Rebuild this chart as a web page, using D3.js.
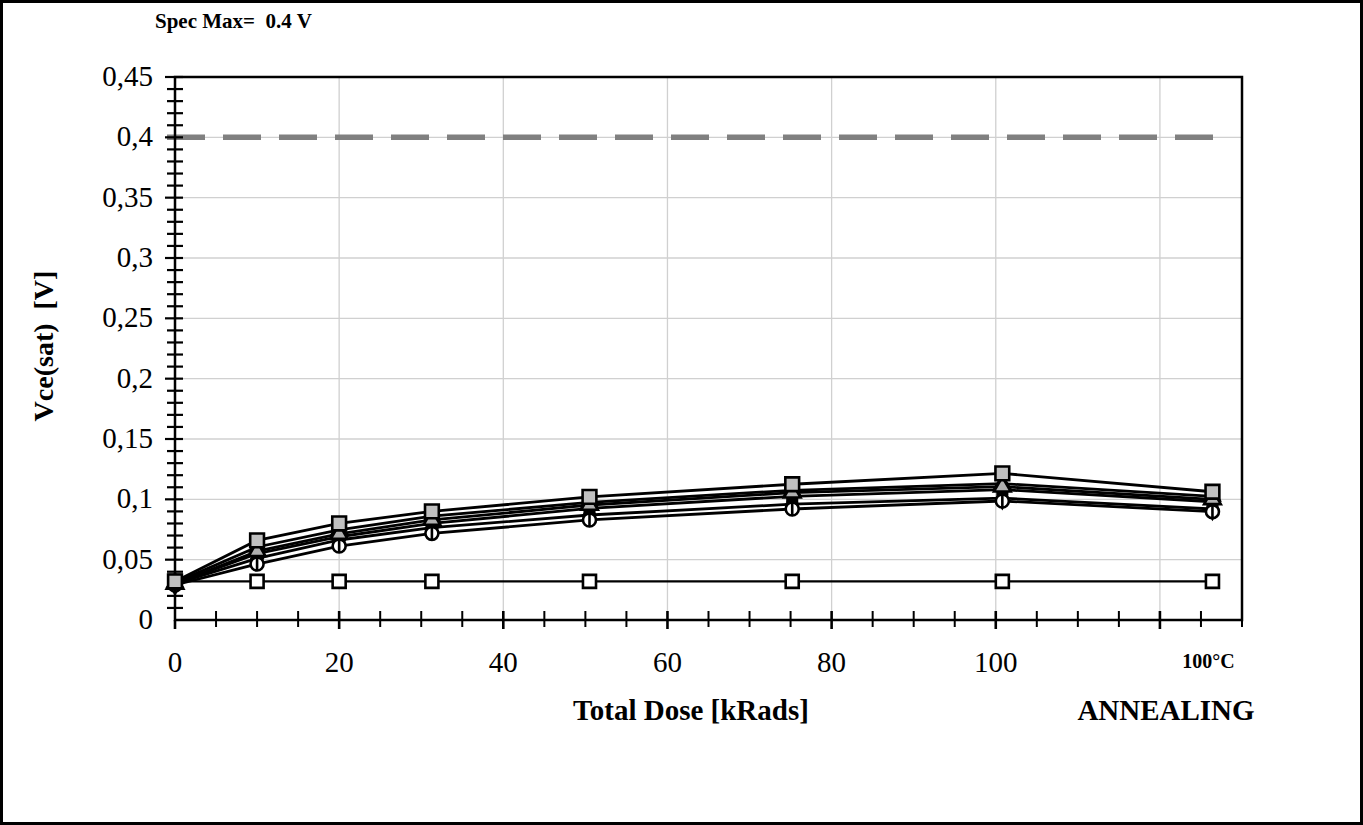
<html>
<head>
<meta charset="UTF-8">
<title>Vce(sat) vs Total Dose</title>
<script src="https://d3js.org/d3.v7.min.js"></script>
<style>
  html, body { margin: 0; padding: 0; background: #fff; }
  svg { display: block; font-family: "Liberation Serif", "Times New Roman", serif; }
  svg text { white-space: pre; }
  .grid line { stroke: #d0d0d0; stroke-width: 1.3; }
  .series { fill: none; stroke: #000; }
</style>
</head>
<body>
<div id="container"></div>
<script>
// dose steps (kRads); last point is the 100°C annealing step
const doses = [0, 10, 20, 31.3, 50.5, 75.2, 100.8, 126.4]
const xTickLabels = ["0", "20", "40", "60", "80", "100"]
const yTickLabels = ["0", "0,05", "0,1", "0,15", "0,2", "0,25", "0,3", "0,35", "0,4", "0,45"]
const specMax = 0.4

const grayBox   = [0.032, 0.066, 0.080, 0.090, 0.102, 0.1125, 0.1215, 0.1063]
const devB      = [0.031, 0.0605, 0.0746, 0.086, 0.0975, 0.1075, 0.1130, 0.1025]
const grayTri   = [0.030, 0.0570, 0.0713, 0.0829, 0.0953, 0.1055, 0.1105, 0.1000]
const devD      = [0.030, 0.0550, 0.0690, 0.0800, 0.0925, 0.1025, 0.1080, 0.0980]
const devE      = [0.030, 0.0510, 0.0663, 0.0765, 0.0870, 0.0960, 0.1010, 0.0920]
const circles   = [0.029, 0.0464, 0.0613, 0.0718, 0.0829, 0.0920, 0.0986, 0.0898]
const reference = [0.032, 0.032, 0.032, 0.032, 0.032, 0.032, 0.032, 0.032]

const W = 1363, H = 825
const margin = { top: 77, right: 121, bottom: 205, left: 175 }
const width = W - margin.left - margin.right
const height = H - margin.top - margin.bottom

const x = d3.scaleLinear().domain([0, 130]).range([0, width])
const y = d3.scaleLinear().domain([0, 0.45]).range([height, 0])

const svg = d3.select("#container").append("svg")
  .attr("width", W).attr("height", H)

// outer frame
svg.append("rect").attr("x", 1.5).attr("y", 1.5)
  .attr("width", W - 3).attr("height", H - 3)
  .attr("fill", "#fff").attr("stroke", "#000").attr("stroke-width", 3)

const g = svg.append("g").attr("transform", "translate(" + margin.left + "," + margin.top + ")")

// grid
const grid = g.append("g").attr("class", "grid")
grid.selectAll(".gx").data(d3.range(20, 121, 20)).enter().append("line")
  .attr("x1", d => x(d)).attr("x2", d => x(d)).attr("y1", 0).attr("y2", height)
grid.selectAll(".gy").data(d3.range(1, 9).map(i => i * 0.05)).enter().append("line")
  .attr("x1", 0).attr("x2", width).attr("y1", d => y(d)).attr("y2", d => y(d))

// spec max line
g.append("line")
  .attr("x1", -8).attr("x2", x(128.5))
  .attr("y1", y(specMax)).attr("y2", y(specMax))
  .attr("stroke", "#808080").attr("stroke-width", 5.5)
  .attr("stroke-dasharray", "38,18")

// plot box
g.append("rect").attr("width", width).attr("height", height)
  .attr("fill", "none").attr("stroke", "#000").attr("stroke-width", 2.5)

// x axis ticks
const xMinor = d3.range(5, 131, 5)
g.append("g").selectAll("line").data(xMinor).enter().append("line")
  .attr("x1", d => x(d)).attr("x2", d => x(d))
  .attr("y1", height - 9).attr("y2", d => d % 20 === 0 ? height + 9 : height + 7)
  .attr("stroke", "#000").attr("stroke-width", d => d % 20 === 0 ? 2.6 : 2)
g.append("line").attr("x1", 0).attr("x2", 0).attr("y1", height).attr("y2", height + 9)
  .attr("stroke", "#000").attr("stroke-width", 2.6)

g.append("g").selectAll("text").data(xTickLabels).enter().append("text")
  .attr("x", (d, i) => x(i * 20)).attr("y", height + 52)
  .attr("text-anchor", "middle").attr("font-size", 29)
  .text(d => d)

g.append("text").attr("x", x(126.4) - 4).attr("y", height + 48)
  .attr("text-anchor", "middle").attr("font-size", 20).attr("font-weight", "bold")
  .text("100°C")

// y axis ticks
const yMinor = d3.range(1, 46).map(i => i / 100)
g.append("g").selectAll("line").data(yMinor).enter().append("line")
  .attr("x1", (d, i) => (i + 1) % 5 === 0 ? -10 : -8).attr("x2", 8)
  .attr("y1", d => y(d)).attr("y2", d => y(d))
  .attr("stroke", "#000").attr("stroke-width", 2.2)

g.append("g").selectAll("text").data(yTickLabels).enter().append("text")
  .attr("x", -22).attr("y", (d, i) => y(i * 0.05) + 9)
  .attr("text-anchor", "end").attr("font-size", 29)
  .text(d => d)

// series
const line = d3.line().x((d, i) => x(doses[i])).y(d => y(d))

const all = [
  { v: reference, marker: "openSquare", w: 2.2 },
  { v: devE, marker: "diamond" },
  { v: devD, marker: "blackSquare" },
  { v: circles, marker: "circle" },
  { v: devB, marker: "blackTri" },
  { v: grayTri, marker: "grayTri" },
  { v: grayBox, marker: "graySquare" }
]

all.forEach(s => {
  g.append("path").datum(s.v).attr("class", "series")
    .attr("stroke-width", s.w || 2.8).attr("d", line)
})

const sym = {
  openSquare: { type: d3.symbolSquare, size: 170, fill: "#fff" },
  graySquare: { type: d3.symbolSquare, size: 190, fill: "#c0c0c0" },
  blackSquare: { type: d3.symbolSquare, size: 90, fill: "#000" },
  diamond: { type: d3.symbolDiamond, size: 110, fill: "#000" },
  grayTri: { type: d3.symbolTriangle, size: 120, fill: "#b0b0b0" },
  blackTri: { type: d3.symbolTriangle, size: 90, fill: "#000" }
}

all.forEach(s => {
  const pts = g.append("g").selectAll("g").data(s.v).enter().append("g")
    .attr("transform", (d, i) => "translate(" + x(doses[i]) + "," + y(d) + ")")
  if (s.marker === "circle") {
    pts.append("circle").attr("r", 6.5).attr("fill", "#fff")
      .attr("stroke", "#000").attr("stroke-width", 2.6)
    pts.append("line").attr("y1", -6.5).attr("y2", 6.5)
      .attr("stroke", "#000").attr("stroke-width", 2.6)
  } else {
    const m = sym[s.marker]
    pts.append("path").attr("d", d3.symbol().type(m.type).size(m.size))
      .attr("fill", m.fill).attr("stroke", "#000").attr("stroke-width", 2.6)
  }
})

// titles
svg.append("text").attr("x", 155).attr("y", 28)
  .attr("font-size", 21).attr("font-weight", "bold")
  .text("Spec Max=  0.4 V")

svg.append("text").attr("x", 691).attr("y", 720)
  .attr("text-anchor", "middle").attr("font-size", 29).attr("font-weight", "bold")
  .text("Total Dose [kRads]")

svg.append("text").attr("x", 1166).attr("y", 720)
  .attr("text-anchor", "middle").attr("font-size", 29).attr("font-weight", "bold")
  .text("ANNEALING")

svg.append("text")
  .attr("transform", "translate(53," + 346 + ") rotate(-90)")
  .attr("text-anchor", "middle").attr("font-size", 28).attr("font-weight", "bold")
  .text("Vce(sat)  [V]")
</script>
</body>
</html>
